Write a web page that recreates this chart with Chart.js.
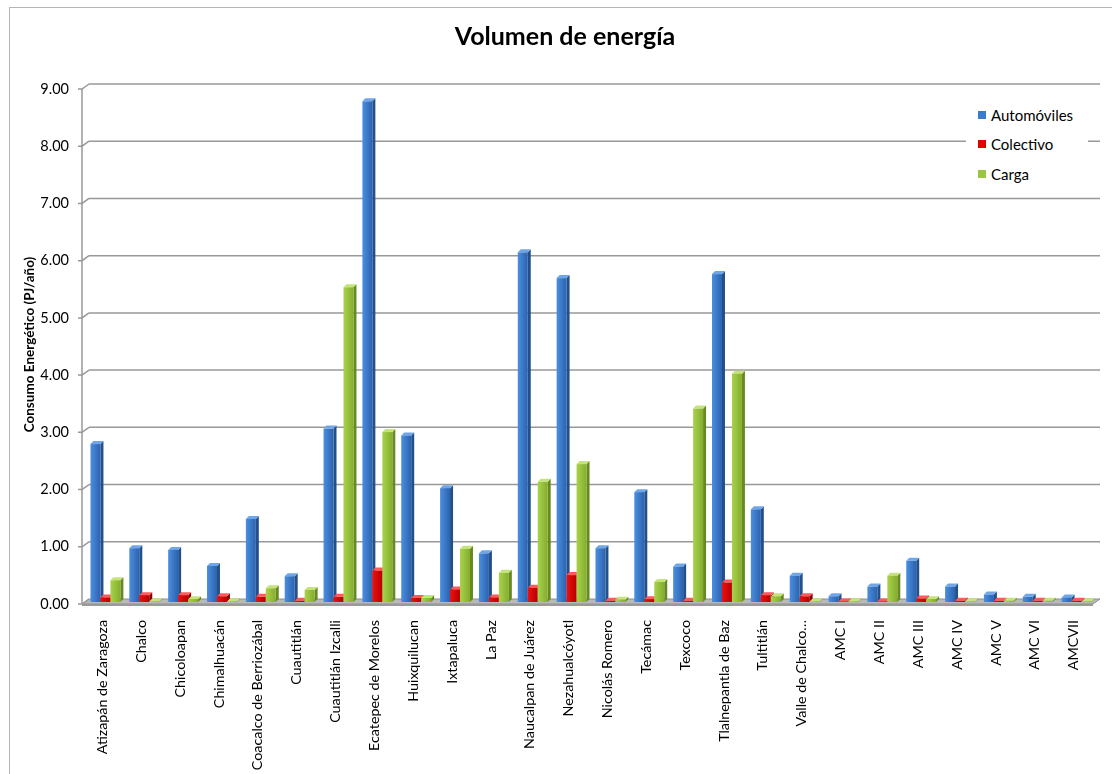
<!DOCTYPE html>
<html lang="es">
<head>
<meta charset="utf-8">
<title>Volumen de energía</title>
<script src="https://cdn.jsdelivr.net/npm/chart.js@4/dist/chart.umd.min.js"></script>
<style>
  html, body { margin: 0; padding: 0; background: #ffffff; }
  body { width: 1112px; height: 774px; position: relative; overflow: hidden; font-family: Lato, "Open Sans", sans-serif; }
  #frame { position: absolute; left: 9px; top: 7px; width: 1200px; height: 900px;
           border-left: 1px solid #b5b5b5; border-top: 1px solid #b5b5b5; }
  #wrap { position: absolute; left: 0; top: 0; width: 1112px; height: 774px; }
  #legend { position: absolute; left: 966px; top: 100px; width: 122px; background: #ffffff;
            padding: 0; margin: 0; list-style: none; font-family: Lato, sans-serif; font-size: 15px; color: #000; }
  #legend li { height: 29.5px; display: flex; align-items: center; }
  #legend li span.sw { display: inline-block; width: 8px; height: 8px; margin: 0 5px 0 12px; }
</style>
</head>
<body>
<div id="frame"></div>
<div id="wrap"><canvas id="chart" width="1112" height="774"></canvas></div>
<ul id="legend"></ul>
<script>
// Municipios / zonas
const categories = [
  'Atizapán de Zaragoza', 'Chalco', 'Chicoloapan', 'Chimalhuacán', 'Coacalco de Berriozábal',
  'Cuautitlán', 'Cuautitlán Izcalli', 'Ecatepec de Morelos', 'Huixquilucan', 'Ixtapaluca',
  'La Paz', 'Naucalpan de Juárez', 'Nezahualcóyotl', 'Nicolás Romero', 'Tecámac', 'Texcoco',
  'Tlalnepantla de Baz', 'Tultitlán', 'Valle de Chalco Solidaridad',
  'AMC I', 'AMC II', 'AMC III', 'AMC IV', 'AMC V', 'AMC VI', 'AMCVII'
];

// Consumo energético (PJ/año) por tipo de transporte
const automoviles = [2.76, 0.94, 0.91, 0.63, 1.45, 0.45, 3.03, 8.75, 2.91, 1.99, 0.85, 6.11, 5.66,
                     0.94, 1.92, 0.62, 5.73, 1.62, 0.46, 0.10, 0.27, 0.72, 0.27, 0.13, 0.09, 0.08];
const colectivo   = [0.08, 0.12, 0.12, 0.10, 0.09, 0.02, 0.09, 0.55, 0.07, 0.22, 0.08, 0.25, 0.47,
                     0.02, 0.05, 0.02, 0.34, 0.12, 0.10, 0.01, 0.01, 0.06, 0.02, 0.02, 0.02, 0.02];
const carga       = [0.38, 0.01, 0.05, 0.01, 0.24, 0.21, 5.50, 2.97, 0.07, 0.93, 0.51, 2.10, 2.41,
                     0.04, 0.35, 3.38, 3.99, 0.10, 0.01, 0.01, 0.46, 0.05, 0.01, 0.02, 0.02, 0.01];

const seriesNames = ['Automóviles', 'Colectivo', 'Carga'];
const yTicks = [0, 1, 2, 3, 4, 5, 6, 7, 8, 9];
const chartTitle = 'Volumen de energía';
const yTitle = 'Consumo Energético (PJ/año)';

// Shading for the 3D columns: [light front, dark front, side, top]
const shades = [
  ['#4b8fe0', '#2b62ad', '#234f8a', '#6fa6ea'],
  ['#ee1111', '#b80000', '#8a0000', '#ff5a5a'],
  ['#a9d24c', '#84ad2e', '#668a20', '#c4e37a']
];

const DEPTH = 3;      // column depth offset in px
const WALL_DX = 7;    // back wall horizontal offset
const WALL_DY = 5;    // back wall vertical offset

function shortLabel(name) {
  return name.length > 24 ? name.slice(0, 15) + '…' : name;
}

const titlePlugin = {
  id: 'chartTitleText',
  afterDraw(chart) {
    const ctx = chart.ctx;
    ctx.save();
    ctx.font = 'bold 25px Lato, sans-serif';
    ctx.fillStyle = '#000';
    ctx.textAlign = 'center';
    ctx.textBaseline = 'middle';
    ctx.fillText(chartTitle, 565, 37);
    ctx.restore();
  }
};

const wall3d = {
  id: 'wall3d',
  beforeDatasetsDraw(chart) {
    const { ctx, chartArea, scales } = chart;
    const y = scales.y;
    const frontX = chartArea.left - 4;
    const backX = frontX + WALL_DX;
    const backR = chartArea.right + 4;
    const frontR = backR - WALL_DX;
    const backY = v => y.getPixelForValue(v) - 3;
    const frontY = v => backY(v) + WALL_DY;

    ctx.save();
    // floor
    ctx.beginPath();
    ctx.moveTo(frontX, frontY(0));
    ctx.lineTo(backX, backY(0));
    ctx.lineTo(backR, backY(0));
    ctx.lineTo(frontR, frontY(0));
    ctx.closePath();
    ctx.fillStyle = '#b9b9b9';
    ctx.fill();
    ctx.strokeStyle = '#8f8f8f';
    ctx.lineWidth = 1;
    ctx.stroke();
    ctx.fillStyle = '#9a9a9a';
    ctx.fillRect(frontX, frontY(0), frontR - frontX, 2);

    // gridlines on the back wall + tick stubs on the side wall
    ctx.strokeStyle = '#989898';
    ctx.lineWidth = 1.5;
    yTicks.forEach(v => {
      if (v > 0) {
        ctx.beginPath();
        ctx.moveTo(backX, backY(v));
        ctx.lineTo(backR, backY(v));
        ctx.stroke();
      }
      ctx.beginPath();
      ctx.moveTo(frontX - 4, frontY(v));
      ctx.lineTo(frontX, frontY(v));
      ctx.lineTo(backX, backY(v));
      ctx.stroke();
    });
    // value axis
    ctx.beginPath();
    ctx.moveTo(frontX, frontY(yTicks[yTicks.length - 1]));
    ctx.lineTo(frontX, frontY(0));
    ctx.stroke();

    // columns, category by category so neighbours overlap like 3D bars
    const metas = chart.data.datasets.map((d, i) => chart.getDatasetMeta(i));
    for (let i = 0; i < chart.data.labels.length; i++) {
      metas.forEach((meta, s) => {
        const el = meta.data[i];
        if (!el) return;
        const p = el.getProps(['x', 'y', 'base', 'width'], true);
        const l = p.x - p.width / 2, r = p.x + p.width / 2;
        const top = p.y, base = p.base;
        const c = shades[s];
        const g = ctx.createLinearGradient(l, 0, r, 0);
        g.addColorStop(0, c[0]);
        g.addColorStop(1, c[1]);
        // side
        ctx.beginPath();
        ctx.moveTo(r, top);
        ctx.lineTo(r + DEPTH, top - DEPTH);
        ctx.lineTo(r + DEPTH, base - DEPTH);
        ctx.lineTo(r, base);
        ctx.closePath();
        ctx.fillStyle = c[2];
        ctx.fill();
        // top
        ctx.beginPath();
        ctx.moveTo(l, top);
        ctx.lineTo(l + DEPTH, top - DEPTH);
        ctx.lineTo(r + DEPTH, top - DEPTH);
        ctx.lineTo(r, top);
        ctx.closePath();
        ctx.fillStyle = c[3];
        ctx.fill();
        // front
        ctx.fillStyle = g;
        ctx.fillRect(l, top, r - l, base - top);
      });
    }
    ctx.restore();
    return false;
  }
};

const chart = new Chart(document.getElementById('chart'), {
  type: 'bar',
  data: {
    labels: categories,
    datasets: [
      { label: seriesNames[0], data: automoviles, backgroundColor: '#3a7bd0' },
      { label: seriesNames[1], data: colectivo, backgroundColor: '#e00000' },
      { label: seriesNames[2], data: carga, backgroundColor: '#9bc63f' }
    ]
  },
  options: {
    responsive: false,
    animation: false,
    layout: { padding: { left: 0, right: 16, top: 87, bottom: 0 } },
    datasets: { bar: { categoryPercentage: 0.77, barPercentage: 1.0 } },
    plugins: {
      legend: { display: false },
      title: { display: false },
      tooltip: { enabled: false }
    },
    scales: {
      x: {
        grid: { display: false },
        border: { display: false },
        ticks: {
          autoSkip: false,
          maxRotation: 90,
          minRotation: 90,
          padding: 10,
          labelOffset: -3,
          color: '#000',
          font: { family: 'Lato', size: 14.3 },
          callback: function (value) { return shortLabel(this.getLabelForValue(value)); }
        },
        afterFit(scale) { scale.height = 172; }
      },
      y: {
        min: 0,
        max: 9,
        grid: { display: false, drawTicks: false },
        border: { display: false },
        afterBuildTicks(scale) { scale.ticks = yTicks.map(v => ({ value: v })); },
        ticks: {
          padding: 17,
          labelOffset: 2,
          color: '#000',
          font: { family: 'Lato', size: 14.5 },
          callback: v => Number(v).toFixed(2)
        },
        title: {
          display: true,
          text: yTitle,
          color: '#000',
          font: { family: 'Lato', size: 13.5, weight: 'bold' },
          padding: { top: 22, bottom: 0 }
        },
        afterFit(scale) { scale.width = 86; }
      }
    }
  },
  plugins: [wall3d, titlePlugin]
});

// legend built from the datasets
const legendEl = document.getElementById('legend');
chart.data.datasets.forEach(ds => {
  const li = document.createElement('li');
  const sw = document.createElement('span');
  sw.className = 'sw';
  sw.style.background = ds.backgroundColor;
  li.appendChild(sw);
  li.appendChild(document.createTextNode(ds.label));
  legendEl.appendChild(li);
});
</script>
</body>
</html>
